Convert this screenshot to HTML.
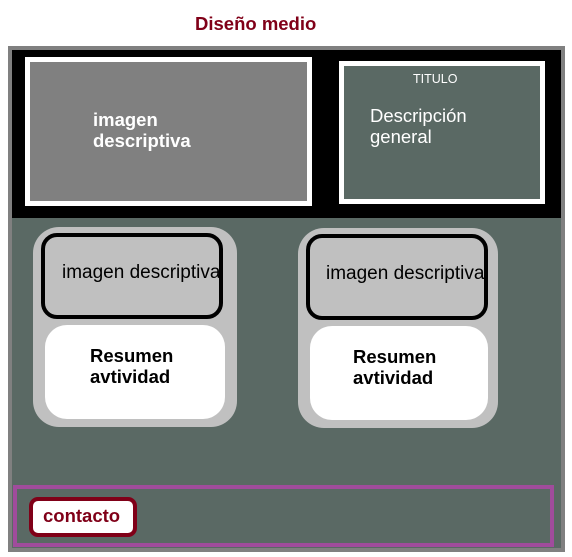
<!DOCTYPE html>
<html><head><style>
body{margin:0;width:572px;height:557px;background:#fff;position:relative;font-family:"Liberation Sans",sans-serif;overflow:hidden}
div{position:absolute;box-sizing:border-box}
.t{white-space:nowrap}
</style></head><body>
<div class="t" style="left:195px;top:13px;font-size:18.5px;font-weight:bold;color:#800018">Diseño medio</div>
<div style="left:8px;top:46px;width:557px;height:506px;background:#5a6964;border:4px solid #808080"></div>
<div style="left:12px;top:50px;width:549px;height:168px;background:#000"></div>
<div style="left:25px;top:57px;width:287px;height:149px;background:#808080;border:5px solid #fff"></div>
<div class="t" style="left:93px;top:109px;font-size:18.5px;font-weight:bold;color:#fff;line-height:21px">imagen<br>descriptiva</div>
<div style="left:339px;top:61px;width:206px;height:143px;background:#5a6964;border:5px solid #fff"></div>
<div class="t" style="left:413px;top:72px;font-size:12.5px;color:#fff">TITULO</div>
<div class="t" style="left:370px;top:105px;font-size:18.5px;color:#fff;line-height:21px">Descripción<br>general</div>

<div style="left:33px;top:227px;width:204px;height:200px;background:#c0c0c0;border-radius:26px"></div>
<div style="left:41px;top:233px;width:182px;height:86px;border:4px solid #000;border-radius:16px"></div>
<div class="t" style="left:62px;top:262px;font-size:19px;color:#000">imagen descriptiva</div>
<div style="left:45px;top:325px;width:180px;height:94px;background:#fff;border-radius:22px"></div>
<div class="t" style="left:90px;top:345px;font-size:18.5px;font-weight:bold;color:#000;line-height:21px">Resumen<br>avtividad</div>

<div style="left:298px;top:228px;width:200px;height:200px;background:#c0c0c0;border-radius:26px"></div>
<div style="left:306px;top:234px;width:182px;height:86px;border:4px solid #000;border-radius:16px"></div>
<div class="t" style="left:326px;top:263px;font-size:19px;color:#000">imagen descriptiva</div>
<div style="left:310px;top:326px;width:178px;height:94px;background:#fff;border-radius:22px"></div>
<div class="t" style="left:353px;top:346px;font-size:18.5px;font-weight:bold;color:#000;line-height:21px">Resumen<br>avtividad</div>

<div style="left:13px;top:485px;width:541px;height:62px;border:4px solid #a04c9c"></div>
<div style="left:29px;top:497px;width:108px;height:40px;background:#fff;border:4px solid #800018;border-radius:9px"></div>
<div class="t" style="left:43px;top:505px;font-size:18.5px;font-weight:bold;color:#800018">contacto</div>
</body></html>
